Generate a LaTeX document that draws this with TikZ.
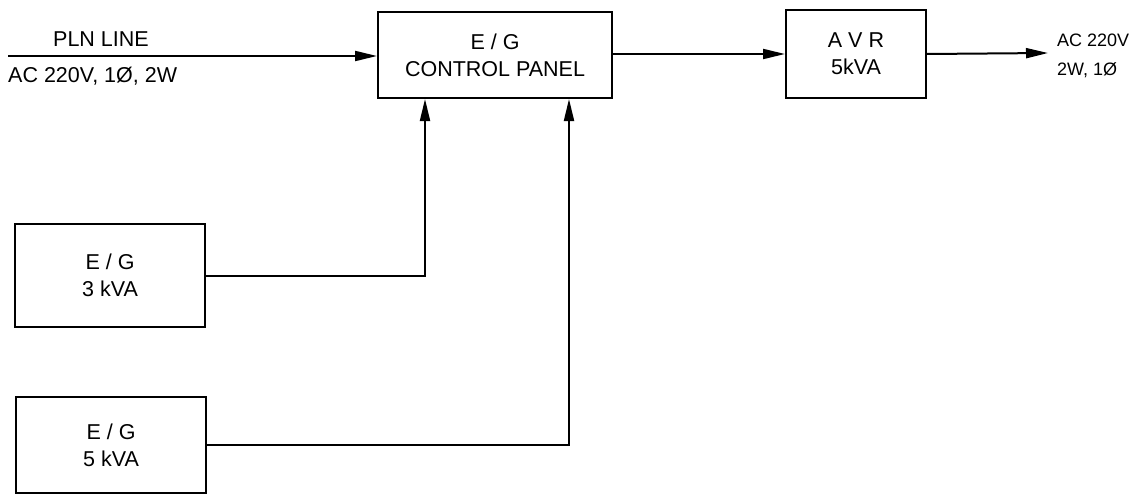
\documentclass[tikz,border=0pt]{standalone}
\usepackage{fontspec}
\setmainfont{Liberation Sans}
\usetikzlibrary{arrows.meta}
\begin{document}
\begin{tikzpicture}[x=1pt,y=-1pt,
  blk/.style={draw,line width=2pt,inner sep=0pt,align=center,font=\fontsize{21.5}{27}\selectfont},
  lbl/.style={inner sep=0pt,font=\fontsize{21.5}{27}\selectfont},
  wire/.style={line width=2pt},
  arr/.style={wire,-{Triangle[length=22pt,width=10pt]}}]
\useasboundingbox (0,0) rectangle (1146,495);
\node[blk,minimum width=234pt,minimum height=86pt] (cp) at (495,55) {E / G\\CONTROL PANEL};
\node[blk,minimum width=140pt,minimum height=87pt] (avr) at (856,54) {A V R\\5kVA};
\node[blk,minimum width=190pt,minimum height=103pt] (g3) at (110,275.5) {E / G\\3 kVA};
\node[blk,minimum width=190pt,minimum height=96pt] (g5) at (111,445) {E / G\\5 kVA};
\coordinate (pln) at (8,56);
\coordinate (out) at (1048,53);
\draw[arr] (pln) -- (pln -| cp.west);
\node[lbl,anchor=base] (plnl) at (101,47) {PLN LINE};
\node[lbl,anchor=base west] (acin) at (8,82) {AC 220V, 1Ø, 2W};
\draw[arr] (cp.east |- avr) -- (avr.west);
\draw[arr] (avr.east) -- (out);
\node[lbl,anchor=base west,font=\fontsize{18}{29}\selectfont] (acout) at (1057,47) {AC 220V};
\node[lbl,anchor=base west,font=\fontsize{18}{29}\selectfont] (acout2) at (1057,76) {2W, 1Ø};
\draw[arr] (g3.east) -| (425,0 |- cp.south);
\draw[arr] (g5.east) -| (569,0 |- cp.south);
\end{tikzpicture}
\end{document}
